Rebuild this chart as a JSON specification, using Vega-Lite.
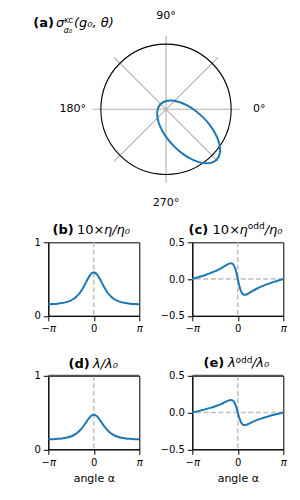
{
  "$schema": "https://vega.github.io/schema/vega-lite/v6.json",
  "autosize": {"type": "none"},
  "padding": {"left": 48.3, "top": 35.8, "right": 251.7, "bottom": 464.2},
  "background": "white",
  "config": {
    "font": "DejaVu Sans",
    "view": {"stroke": "black", "strokeWidth": 1},
    "axis": {"grid": false, "domainColor": "black", "domainWidth": 1, "tickColor": "black", "tickWidth": 1, "tickSize": 5, "labelFont": "DejaVu Sans", "labelFontSize": 10, "labelColor": "black", "labelPadding": 3, "labelOverlap": false, "titleFont": "DejaVu Sans", "titleFontSize": 11, "titleFontWeight": "normal", "titleColor": "black", "titlePadding": 5},
    "text": {"font": "DejaVu Sans", "color": "black"}
  },
  "datasets": {
    "curves": [
      {"a": -3.14159, "eta": 0.157, "etao": 0, "lam": 0.1355, "lamo": 0},
      {"a": -2.8, "eta": 0.1606, "etao": 0.0204, "lam": 0.1382, "lamo": 0.0161},
      {"a": -2.5, "eta": 0.1654, "etao": 0.0389, "lam": 0.1419, "lamo": 0.0307},
      {"a": -2.2, "eta": 0.1731, "etao": 0.0585, "lam": 0.1479, "lamo": 0.0462},
      {"a": -1.9, "eta": 0.1858, "etao": 0.0799, "lam": 0.1576, "lamo": 0.0631},
      {"a": -1.6, "eta": 0.207, "etao": 0.1039, "lam": 0.1741, "lamo": 0.0821},
      {"a": -1.4, "eta": 0.2289, "etao": 0.122, "lam": 0.191, "lamo": 0.0964},
      {"a": -1.2, "eta": 0.26, "etao": 0.1422, "lam": 0.215, "lamo": 0.1123},
      {"a": -1.0, "eta": 0.3033, "etao": 0.1646, "lam": 0.2484, "lamo": 0.13},
      {"a": -0.85, "eta": 0.3451, "etao": 0.1824, "lam": 0.2808, "lamo": 0.1441},
      {"a": -0.7, "eta": 0.3949, "etao": 0.1999, "lam": 0.3193, "lamo": 0.1579},
      {"a": -0.6, "eta": 0.4316, "etao": 0.2095, "lam": 0.3476, "lamo": 0.1655},
      {"a": -0.5, "eta": 0.4695, "etao": 0.2151, "lam": 0.3769, "lamo": 0.1699},
      {"a": -0.4, "eta": 0.5064, "etao": 0.2126, "lam": 0.4054, "lamo": 0.168},
      {"a": -0.3, "eta": 0.5398, "etao": 0.1953, "lam": 0.4312, "lamo": 0.1543},
      {"a": -0.2, "eta": 0.5666, "etao": 0.1555, "lam": 0.4519, "lamo": 0.1228},
      {"a": -0.1, "eta": 0.584, "etao": 0.088, "lam": 0.4653, "lamo": 0.0695},
      {"a": -0.05, "eta": 0.5885, "etao": 0.0456, "lam": 0.4688, "lamo": 0.036},
      {"a": 0, "eta": 0.59, "etao": 0, "lam": 0.47, "lamo": 0},
      {"a": 0.05, "eta": 0.5885, "etao": -0.0456, "lam": 0.4688, "lamo": -0.036},
      {"a": 0.1, "eta": 0.584, "etao": -0.088, "lam": 0.4653, "lamo": -0.0695},
      {"a": 0.2, "eta": 0.5666, "etao": -0.1555, "lam": 0.4519, "lamo": -0.1228},
      {"a": 0.3, "eta": 0.5398, "etao": -0.1953, "lam": 0.4312, "lamo": -0.1543},
      {"a": 0.4, "eta": 0.5064, "etao": -0.2126, "lam": 0.4054, "lamo": -0.168},
      {"a": 0.5, "eta": 0.4695, "etao": -0.2151, "lam": 0.3769, "lamo": -0.1699},
      {"a": 0.6, "eta": 0.4316, "etao": -0.2095, "lam": 0.3476, "lamo": -0.1655},
      {"a": 0.7, "eta": 0.3949, "etao": -0.1999, "lam": 0.3193, "lamo": -0.1579},
      {"a": 0.85, "eta": 0.3451, "etao": -0.1824, "lam": 0.2808, "lamo": -0.1441},
      {"a": 1.0, "eta": 0.3033, "etao": -0.1646, "lam": 0.2484, "lamo": -0.13},
      {"a": 1.2, "eta": 0.26, "etao": -0.1422, "lam": 0.215, "lamo": -0.1123},
      {"a": 1.4, "eta": 0.2289, "etao": -0.122, "lam": 0.191, "lamo": -0.0964},
      {"a": 1.6, "eta": 0.207, "etao": -0.1039, "lam": 0.1741, "lamo": -0.0821},
      {"a": 1.9, "eta": 0.1858, "etao": -0.0799, "lam": 0.1576, "lamo": -0.0631},
      {"a": 2.2, "eta": 0.1731, "etao": -0.0585, "lam": 0.1479, "lamo": -0.0462},
      {"a": 2.5, "eta": 0.1654, "etao": -0.0389, "lam": 0.1419, "lamo": -0.0307},
      {"a": 2.8, "eta": 0.1606, "etao": -0.0204, "lam": 0.1382, "lamo": -0.0161},
      {"a": 3.14159, "eta": 0.157, "etao": 0, "lam": 0.1355, "lamo": 0}
    ],
    "ellipse": [
      {"i": 0, "x": 0.6874, "y": -0.6874},
      {"i": 1, "x": 0.7255, "y": -0.6234},
      {"i": 2, "x": 0.7352, "y": -0.5379},
      {"i": 3, "x": 0.7157, "y": -0.4367},
      {"i": 4, "x": 0.6684, "y": -0.3267},
      {"i": 5, "x": 0.5966, "y": -0.2154},
      {"i": 6, "x": 0.505, "y": -0.1104},
      {"i": 7, "x": 0.4, "y": -0.0188},
      {"i": 8, "x": 0.2887, "y": 0.053},
      {"i": 9, "x": 0.1787, "y": 0.1003},
      {"i": 10, "x": 0.0775, "y": 0.1198},
      {"i": 11, "x": -0.008, "y": 0.1101},
      {"i": 12, "x": -0.072, "y": 0.072},
      {"i": 13, "x": -0.1101, "y": 0.008},
      {"i": 14, "x": -0.1198, "y": -0.0775},
      {"i": 15, "x": -0.1003, "y": -0.1787},
      {"i": 16, "x": -0.053, "y": -0.2887},
      {"i": 17, "x": 0.0188, "y": -0.4},
      {"i": 18, "x": 0.1104, "y": -0.505},
      {"i": 19, "x": 0.2154, "y": -0.5966},
      {"i": 20, "x": 0.3267, "y": -0.6684},
      {"i": 21, "x": 0.4367, "y": -0.7157},
      {"i": 22, "x": 0.5379, "y": -0.7352},
      {"i": 23, "x": 0.6234, "y": -0.7255}
    ],
    "grid": [
      {"x": -1, "y": 0, "x2": 1, "y2": 0},
      {"x": 0, "y": -1, "x2": 0, "y2": 1},
      {"x": -0.7071, "y": -0.7071, "x2": 0.7071, "y2": 0.7071},
      {"x": -0.7071, "y": 0.7071, "x2": 0.7071, "y2": -0.7071}
    ],
    "plabels": [
      {"t": "0°", "x": 1.27, "y": 0},
      {"t": "90°", "x": 0, "y": 1.27},
      {"t": "180°", "x": -1.27, "y": 0},
      {"t": "270°", "x": 0, "y": -1.27}
    ]
  },
  "columns": 2,
  "spacing": {"row": 59.5, "column": 53},
  "align": "each",
  "bounds": "flush",
  "concat": [
    {
      "width": 91, "height": 147,
      "view": {"stroke": null},
      "layer": [
        {"data": {"name": "grid"}, "mark": {"type": "rule", "color": "#b0b0b0", "strokeWidth": 1.1},
         "encoding": {
           "x": {"field": "x", "type": "quantitative", "scale": {"domain": [-1.6014, -0.3633], "nice": false, "zero": false}, "axis": null},
           "y": {"field": "y", "type": "quantitative", "scale": {"domain": [-1, 1], "nice": false, "zero": false}, "axis": null},
           "x2": {"field": "x2"}, "y2": {"field": "y2"}}},
        {"data": {"values": [{"x": 0, "y": 0}]}, "mark": {"type": "point", "shape": "circle", "size": 16972, "filled": false, "stroke": "black", "strokeWidth": 1.1, "opacity": 1},
         "encoding": {
           "x": {"field": "x", "type": "quantitative", "scale": {"domain": [-1.6014, -0.3633], "nice": false, "zero": false}, "axis": null},
           "y": {"field": "y", "type": "quantitative", "scale": {"domain": [-1, 1], "nice": false, "zero": false}, "axis": null}}},
        {"data": {"name": "ellipse"}, "mark": {"type": "line", "color": "#1f77b4", "strokeWidth": 2, "interpolate": "cardinal-closed"},
         "encoding": {
           "x": {"field": "x", "type": "quantitative", "scale": {"domain": [-1.6014, -0.3633], "nice": false, "zero": false}, "axis": null},
           "y": {"field": "y", "type": "quantitative", "scale": {"domain": [-1, 1], "nice": false, "zero": false}, "axis": null},
           "order": {"field": "i", "type": "quantitative"}}},
        {"data": {"name": "plabels"}, "mark": {"type": "text", "fontSize": 11, "align": "center", "baseline": "middle"},
         "encoding": {
           "x": {"field": "x", "type": "quantitative", "axis": null},
           "y": {"field": "y", "type": "quantitative", "axis": null},
           "text": {"field": "t"}}},
        {"data": {"values": [{}]}, "mark": {"type": "text", "text": "(a)", "fontSize": 13, "fontWeight": "bold", "align": "left", "baseline": "alphabetic"},
         "encoding": {"x": {"datum": -1.805, "type": "quantitative", "axis": null}, "y": {"datum": 1.124, "type": "quantitative", "axis": null}}},
        {"data": {"values": [{}]}, "mark": {"type": "text", "text": "σ", "fontSize": 13, "fontStyle": "italic", "align": "left", "baseline": "alphabetic"},
         "encoding": {"x": {"datum": -1.497, "type": "quantitative", "axis": null}, "y": {"datum": 1.124, "type": "quantitative", "axis": null}}},
        {"data": {"values": [{}]}, "mark": {"type": "text", "text": "KC", "fontSize": 7, "align": "left", "baseline": "alphabetic"},
         "encoding": {"x": {"datum": -1.385, "type": "quantitative", "axis": null}, "y": {"datum": 1.175, "type": "quantitative", "axis": null}}},
        {"data": {"values": [{}]}, "mark": {"type": "text", "text": "α₀", "fontSize": 8, "fontStyle": "italic", "align": "left", "baseline": "alphabetic"},
         "encoding": {"x": {"datum": -1.39, "type": "quantitative", "axis": null}, "y": {"datum": 1.034, "type": "quantitative", "axis": null}}},
        {"data": {"values": [{}]}, "mark": {"type": "text", "text": "(g₀, θ)", "fontSize": 13, "fontStyle": "italic", "align": "left", "baseline": "alphabetic"},
         "encoding": {"x": {"datum": -1.252, "type": "quantitative", "axis": null}, "y": {"datum": 1.124, "type": "quantitative", "axis": null}}}
      ]
    },
    {
      "width": 91, "height": 20,
      "view": {"stroke": null},
      "data": {"values": [{}]},
      "mark": {"type": "point", "opacity": 0}
    },
    {
      "width": 91, "height": 73.5,
      "data": {"name": "curves"},
      "layer": [
        {"data": {"values": [{}]}, "mark": {"type": "rule", "color": "#bfbfbf", "strokeWidth": 1.5, "strokeDash": [5, 2.5]},
         "encoding": {"x": {"datum": 0, "type": "quantitative", "scale": {"domain": [-3.14159, 3.14159], "nice": false, "zero": false},
                 "axis": {"values": [-3.14159, 0, 3.14159], "tickCount": 5, "labelExpr": "datum.value < -1 ? '−π' : (datum.value > 1 ? 'π' : '0')", "labelFontStyle": {"condition": {"test": "datum.value != 0", "value": "italic"}, "value": "normal"}, "labelFlush": false, "labelOverlap": false, "title": null}}}},
        {"mark": {"type": "line", "color": "#1f77b4", "strokeWidth": 2, "interpolate": "monotone"},
         "encoding": {
           "x": {"field": "a", "type": "quantitative", "scale": {"domain": [-3.14159, 3.14159], "nice": false, "zero": false},
                 "axis": {"values": [-3.14159, 0, 3.14159], "tickCount": 5, "labelExpr": "datum.value < -1 ? '−π' : (datum.value > 1 ? 'π' : '0')", "labelFontStyle": {"condition": {"test": "datum.value != 0", "value": "italic"}, "value": "normal"}, "labelFlush": false, "labelOverlap": false, "title": null}},
           "y": {"field": "eta", "type": "quantitative", "scale": {"domain": [0, 1], "nice": false, "zero": false},
                 "axis": {"values": [0, 1], "tickCount": 5, "format": "d", "labelFlush": false, "labelOverlap": false, "title": null}}}},
        {"data": {"values": [{}]}, "mark": {"type": "text", "text": "(b)", "fontSize": 13, "fontWeight": "bold", "align": "left", "baseline": "alphabetic"},
         "encoding": {"x": {"datum": -2.852, "type": "quantitative"}, "y": {"datum": 1.113, "type": "quantitative"}}},
        {"data": {"values": [{}]}, "mark": {"type": "text", "text": "10×", "fontSize": 13, "align": "left", "baseline": "alphabetic"},
         "encoding": {"x": {"datum": -1.16, "type": "quantitative"}, "y": {"datum": 1.113, "type": "quantitative"}}},
        {"data": {"values": [{}]}, "mark": {"type": "text", "text": "η/η₀", "fontSize": 13, "fontStyle": "italic", "align": "left", "baseline": "alphabetic"},
         "encoding": {"x": {"datum": 0.704, "type": "quantitative"}, "y": {"datum": 1.113, "type": "quantitative"}}}
      ]
    },
    {
      "width": 91, "height": 73.5,
      "data": {"name": "curves"},
      "layer": [
        {"data": {"values": [{}]}, "mark": {"type": "rule", "color": "#bfbfbf", "strokeWidth": 1.5, "strokeDash": [5, 2.5]},
         "encoding": {"x": {"datum": 0, "type": "quantitative", "scale": {"domain": [-3.14159, 3.14159], "nice": false, "zero": false},
                 "axis": {"values": [-3.14159, 0, 3.14159], "tickCount": 5, "labelExpr": "datum.value < -1 ? '−π' : (datum.value > 1 ? 'π' : '0')", "labelFontStyle": {"condition": {"test": "datum.value != 0", "value": "italic"}, "value": "normal"}, "labelFlush": false, "labelOverlap": false, "title": null}}}},
        {"data": {"values": [{}]}, "mark": {"type": "rule", "color": "#bfbfbf", "strokeWidth": 1.5, "strokeDash": [5, 2.5]},
         "encoding": {"y": {"datum": 0, "type": "quantitative", "scale": {"domain": [-0.5, 0.5], "nice": false, "zero": false},
                 "axis": {"values": [-0.5, 0, 0.5], "tickCount": 5, "labelExpr": "datum.value > 0.1 ? '0.5' : (datum.value < -0.1 ? '−0.5' : '0.0')", "labelFlush": false, "labelOverlap": false, "title": null}}}},
        {"mark": {"type": "line", "color": "#1f77b4", "strokeWidth": 2, "interpolate": "monotone"},
         "encoding": {
           "x": {"field": "a", "type": "quantitative", "scale": {"domain": [-3.14159, 3.14159], "nice": false, "zero": false},
                 "axis": {"values": [-3.14159, 0, 3.14159], "tickCount": 5, "labelExpr": "datum.value < -1 ? '−π' : (datum.value > 1 ? 'π' : '0')", "labelFontStyle": {"condition": {"test": "datum.value != 0", "value": "italic"}, "value": "normal"}, "labelFlush": false, "labelOverlap": false, "title": null}},
           "y": {"field": "etao", "type": "quantitative", "scale": {"domain": [-0.5, 0.5], "nice": false, "zero": false},
                 "axis": {"values": [-0.5, 0, 0.5], "tickCount": 5, "labelExpr": "datum.value > 0.1 ? '0.5' : (datum.value < -0.1 ? '−0.5' : '0.0')", "labelFlush": false, "labelOverlap": false, "title": null}}}},
        {"data": {"values": [{}]}, "mark": {"type": "text", "text": "(c)", "fontSize": 13, "fontWeight": "bold", "align": "left", "baseline": "alphabetic"},
         "encoding": {"x": {"datum": -3.404, "type": "quantitative"}, "y": {"datum": 0.613, "type": "quantitative"}}},
        {"data": {"values": [{}]}, "mark": {"type": "text", "text": "10×", "fontSize": 13, "align": "left", "baseline": "alphabetic"},
         "encoding": {"x": {"datum": -1.74, "type": "quantitative"}, "y": {"datum": 0.613, "type": "quantitative"}}},
        {"data": {"values": [{}]}, "mark": {"type": "text", "text": "η", "fontSize": 13, "fontStyle": "italic", "align": "left", "baseline": "alphabetic"},
         "encoding": {"x": {"datum": 0.124, "type": "quantitative"}, "y": {"datum": 0.613, "type": "quantitative"}}},
        {"data": {"values": [{}]}, "mark": {"type": "text", "text": "odd", "fontSize": 9, "align": "left", "baseline": "alphabetic"},
         "encoding": {"x": {"datum": 0.69, "type": "quantitative"}, "y": {"datum": 0.68, "type": "quantitative"}}},
        {"data": {"values": [{}]}, "mark": {"type": "text", "text": "/η₀", "fontSize": 13, "fontStyle": "italic", "align": "left", "baseline": "alphabetic"},
         "encoding": {"x": {"datum": 1.857, "type": "quantitative"}, "y": {"datum": 0.613, "type": "quantitative"}}}
      ]
    },
    {
      "width": 91, "height": 73.5,
      "data": {"name": "curves"},
      "layer": [
        {"data": {"values": [{}]}, "mark": {"type": "rule", "color": "#bfbfbf", "strokeWidth": 1.5, "strokeDash": [5, 2.5]},
         "encoding": {"x": {"datum": 0, "type": "quantitative", "scale": {"domain": [-3.14159, 3.14159], "nice": false, "zero": false},
                 "axis": {"values": [-3.14159, 0, 3.14159], "tickCount": 5, "labelExpr": "datum.value < -1 ? '−π' : (datum.value > 1 ? 'π' : '0')", "labelFontStyle": {"condition": {"test": "datum.value != 0", "value": "italic"}, "value": "normal"}, "labelFlush": false, "labelOverlap": false, "title": "angle α"}}}},
        {"data": {"values": [{}]}, "mark": {"type": "rule", "color": "#555555", "strokeWidth": 2},
         "encoding": {"y": {"datum": 1, "type": "quantitative", "scale": {"domain": [0, 1], "nice": false, "zero": false},
                 "axis": {"values": [0, 1], "tickCount": 5, "format": "d", "labelFlush": false, "labelOverlap": false, "title": null}}}},
        {"mark": {"type": "line", "color": "#1f77b4", "strokeWidth": 2, "interpolate": "monotone"},
         "encoding": {
           "x": {"field": "a", "type": "quantitative", "scale": {"domain": [-3.14159, 3.14159], "nice": false, "zero": false},
                 "axis": {"values": [-3.14159, 0, 3.14159], "tickCount": 5, "labelExpr": "datum.value < -1 ? '−π' : (datum.value > 1 ? 'π' : '0')", "labelFontStyle": {"condition": {"test": "datum.value != 0", "value": "italic"}, "value": "normal"}, "labelFlush": false, "labelOverlap": false, "title": "angle α"}},
           "y": {"field": "lam", "type": "quantitative", "scale": {"domain": [0, 1], "nice": false, "zero": false},
                 "axis": {"values": [0, 1], "tickCount": 5, "format": "d", "labelFlush": false, "labelOverlap": false, "title": null}}}},
        {"data": {"values": [{}]}, "mark": {"type": "text", "text": "(d)", "fontSize": 13, "fontWeight": "bold", "align": "left", "baseline": "alphabetic"},
         "encoding": {"x": {"datum": -1.747, "type": "quantitative"}, "y": {"datum": 1.109, "type": "quantitative"}}},
        {"data": {"values": [{}]}, "mark": {"type": "text", "text": "λ/λ₀", "fontSize": 13, "fontStyle": "italic", "align": "left", "baseline": "alphabetic"},
         "encoding": {"x": {"datum": -0.055, "type": "quantitative"}, "y": {"datum": 1.109, "type": "quantitative"}}}
      ]
    },
    {
      "width": 91, "height": 73.5,
      "data": {"name": "curves"},
      "layer": [
        {"data": {"values": [{}]}, "mark": {"type": "rule", "color": "#bfbfbf", "strokeWidth": 1.5, "strokeDash": [5, 2.5]},
         "encoding": {"x": {"datum": 0, "type": "quantitative", "scale": {"domain": [-3.14159, 3.14159], "nice": false, "zero": false},
                 "axis": {"values": [-3.14159, 0, 3.14159], "tickCount": 5, "labelExpr": "datum.value < -1 ? '−π' : (datum.value > 1 ? 'π' : '0')", "labelFontStyle": {"condition": {"test": "datum.value != 0", "value": "italic"}, "value": "normal"}, "labelFlush": false, "labelOverlap": false, "title": "angle α"}}}},
        {"data": {"values": [{}]}, "mark": {"type": "rule", "color": "#bfbfbf", "strokeWidth": 1.5, "strokeDash": [5, 2.5]},
         "encoding": {"y": {"datum": 0, "type": "quantitative", "scale": {"domain": [-0.5, 0.5], "nice": false, "zero": false},
                 "axis": {"values": [-0.5, 0, 0.5], "tickCount": 5, "labelExpr": "datum.value > 0.1 ? '0.5' : (datum.value < -0.1 ? '−0.5' : '0.0')", "labelFlush": false, "labelOverlap": false, "title": null}}}},
        {"data": {"values": [{}]}, "mark": {"type": "rule", "color": "#555555", "strokeWidth": 2},
         "encoding": {"y": {"datum": 0.5, "type": "quantitative", "scale": {"domain": [-0.5, 0.5], "nice": false, "zero": false},
                 "axis": {"values": [-0.5, 0, 0.5], "tickCount": 5, "labelExpr": "datum.value > 0.1 ? '0.5' : (datum.value < -0.1 ? '−0.5' : '0.0')", "labelFlush": false, "labelOverlap": false, "title": null}}}},
        {"mark": {"type": "line", "color": "#1f77b4", "strokeWidth": 2, "interpolate": "monotone"},
         "encoding": {
           "x": {"field": "a", "type": "quantitative", "scale": {"domain": [-3.14159, 3.14159], "nice": false, "zero": false},
                 "axis": {"values": [-3.14159, 0, 3.14159], "tickCount": 5, "labelExpr": "datum.value < -1 ? '−π' : (datum.value > 1 ? 'π' : '0')", "labelFontStyle": {"condition": {"test": "datum.value != 0", "value": "italic"}, "value": "normal"}, "labelFlush": false, "labelOverlap": false, "title": "angle α"}},
           "y": {"field": "lamo", "type": "quantitative", "scale": {"domain": [-0.5, 0.5], "nice": false, "zero": false},
                 "axis": {"values": [-0.5, 0, 0.5], "tickCount": 5, "labelExpr": "datum.value > 0.1 ? '0.5' : (datum.value < -0.1 ? '−0.5' : '0.0')", "labelFlush": false, "labelOverlap": false, "title": null}}}},
        {"data": {"values": [{}]}, "mark": {"type": "text", "text": "(e)", "fontSize": 13, "fontWeight": "bold", "align": "left", "baseline": "alphabetic"},
         "encoding": {"x": {"datum": -2.368, "type": "quantitative"}, "y": {"datum": 0.613, "type": "quantitative"}}},
        {"data": {"values": [{}]}, "mark": {"type": "text", "text": "λ", "fontSize": 13, "fontStyle": "italic", "align": "left", "baseline": "alphabetic"},
         "encoding": {"x": {"datum": -0.677, "type": "quantitative"}, "y": {"datum": 0.613, "type": "quantitative"}}},
        {"data": {"values": [{}]}, "mark": {"type": "text", "text": "odd", "fontSize": 9, "align": "left", "baseline": "alphabetic"},
         "encoding": {"x": {"datum": -0.159, "type": "quantitative"}, "y": {"datum": 0.68, "type": "quantitative"}}},
        {"data": {"values": [{}]}, "mark": {"type": "text", "text": "/λ₀", "fontSize": 13, "fontStyle": "italic", "align": "left", "baseline": "alphabetic"},
         "encoding": {"x": {"datum": 0.98, "type": "quantitative"}, "y": {"datum": 0.613, "type": "quantitative"}}}
      ]
    }
  ]
}
